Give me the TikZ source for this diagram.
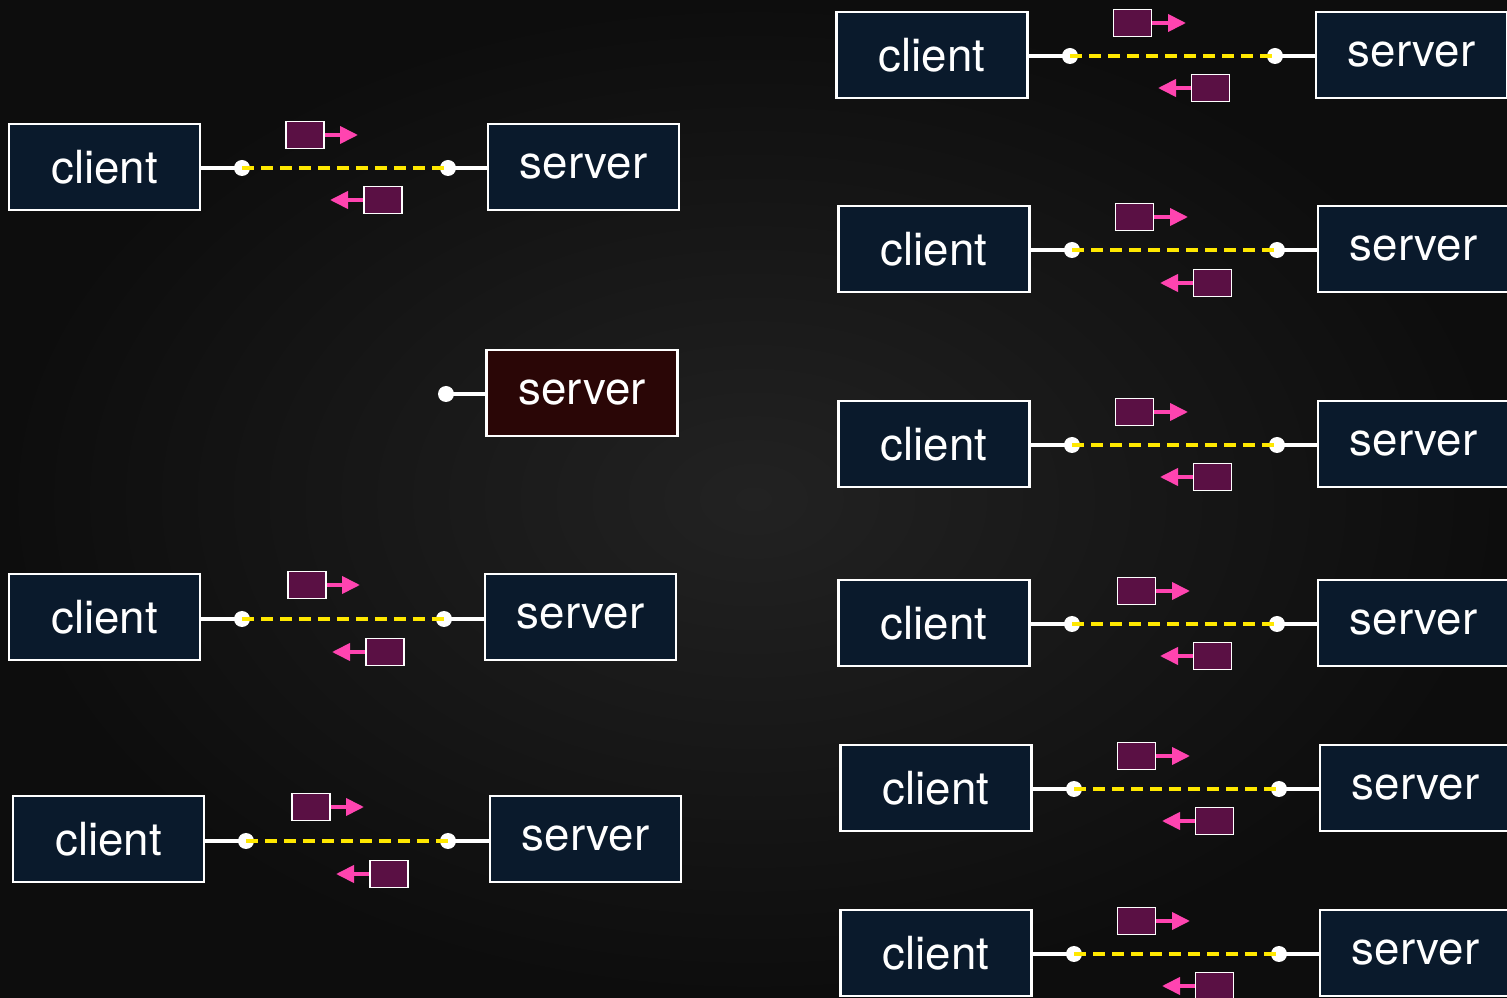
\documentclass[tikz,border=0pt]{standalone}
\usepackage{fontspec}
\setmainfont{TeX Gyre Heros}
\usetikzlibrary{arrows.meta}

\definecolor{bgouter}{HTML}{0D0D0D}
\definecolor{bginner}{HTML}{222222}
\definecolor{hostblue}{HTML}{0A1A2C}
\definecolor{hostred}{HTML}{2A0606}
\definecolor{packetfill}{HTML}{5A1044}
\definecolor{flowpink}{HTML}{FF44B0}
\definecolor{linkyellow}{HTML}{FFE800}

\tikzset{
  host/.style={draw=white, line width=0.6pt, fill=hostblue, text=white, minimum width=19.1mm, minimum height=8.6mm, inner sep=0pt, font=\fontsize{13}{15}\selectfont},
  deadhost/.style={host, fill=hostred},
  endpoint/.style={circle, fill=white, minimum size=1.6mm, inner sep=0pt},
  packet/.style={draw=white, line width=0.5pt, fill=packetfill, minimum width=3.8mm, minimum height=2.7mm, inner sep=0pt},
  wire/.style={white, line width=0.9pt},
  link/.style={linkyellow, line width=1.1pt, dash pattern=on 1.2mm off 0.7mm},
  flow/.style={flowpink, line width=1.1pt, -{Triangle[length=1.8mm,width=1.7mm]}}
}

\begin{document}
\begin{tikzpicture}[x=0.1mm, y=-0.1mm]
\shade[inner color=bginner, outer color=bgouter] (0,0) rectangle (1507,998);
\clip (0,0) rectangle (1507,998);

% left column
\node[host] (client1) at (104.5,167) {client};
\node[host] (server1) at (583.5,167) {server};
\node[endpoint] (cend1) at (242,168) {};
\node[endpoint] (send1) at (448,168) {};
\draw[wire] (client1.east |- cend1) -- (cend1.center);
\draw[wire] (send1.center) -- (server1.west |- send1);
\draw[link] (cend1.center) -- (send1.center);
\node[packet] (req1) at (305,135) {};
\node[packet] (resp1) at (383,200) {};
\coordinate (reqtip1) at (358,135);
\coordinate (resptip1) at (330,200);
\draw[flow] (req1.east) -- (reqtip1);
\draw[flow] (resp1.west) -- (resptip1);

\node[deadhost] (server2) at (582,393) {server};
\node[endpoint] (send2) at (446,394) {};
\draw[wire] (send2.center) -- (server2.west |- send2);

\node[host] (client3) at (104.5,617) {client};
\node[host] (server3) at (580.5,617) {server};
\node[endpoint] (cend3) at (242,619) {};
\node[endpoint] (send3) at (444,619) {};
\draw[wire] (client3.east |- cend3) -- (cend3.center);
\draw[wire] (send3.center) -- (server3.west |- send3);
\draw[link] (cend3.center) -- (send3.center);
\node[packet] (req3) at (307,585) {};
\node[packet] (resp3) at (385,652) {};
\coordinate (reqtip3) at (360,585);
\coordinate (resptip3) at (332,652);
\draw[flow] (req3.east) -- (reqtip3);
\draw[flow] (resp3.west) -- (resptip3);

\node[host] (client4) at (108.5,839) {client};
\node[host] (server4) at (585.5,839) {server};
\node[endpoint] (cend4) at (246,841) {};
\node[endpoint] (send4) at (448,841) {};
\draw[wire] (client4.east |- cend4) -- (cend4.center);
\draw[wire] (send4.center) -- (server4.west |- send4);
\draw[link] (cend4.center) -- (send4.center);
\node[packet] (req4) at (311,807) {};
\node[packet] (resp4) at (389,874) {};
\coordinate (reqtip4) at (364,807);
\coordinate (resptip4) at (336,874);
\draw[flow] (req4.east) -- (reqtip4);
\draw[flow] (resp4.west) -- (resptip4);

% right column
\node[host] (client5) at (932,55) {client};
\node[host] (server5) at (1411.5,55) {server};
\node[endpoint] (cend5) at (1070,56) {};
\node[endpoint] (send5) at (1275,56) {};
\draw[wire] (client5.east |- cend5) -- (cend5.center);
\draw[wire] (send5.center) -- (server5.west |- send5);
\draw[link] (cend5.center) -- (send5.center);
\node[packet] (req5) at (1132.5,23) {};
\node[packet] (resp5) at (1210.5,88) {};
\coordinate (reqtip5) at (1186,23);
\coordinate (resptip5) at (1158,88);
\draw[flow] (req5.east) -- (reqtip5);
\draw[flow] (resp5.west) -- (resptip5);

\node[host] (client6) at (934,249) {client};
\node[host] (server6) at (1413.5,249) {server};
\node[endpoint] (cend6) at (1072,250) {};
\node[endpoint] (send6) at (1277,250) {};
\draw[wire] (client6.east |- cend6) -- (cend6.center);
\draw[wire] (send6.center) -- (server6.west |- send6);
\draw[link] (cend6.center) -- (send6.center);
\node[packet] (req6) at (1134.5,217) {};
\node[packet] (resp6) at (1212.5,283) {};
\coordinate (reqtip6) at (1188,217);
\coordinate (resptip6) at (1160,283);
\draw[flow] (req6.east) -- (reqtip6);
\draw[flow] (resp6.west) -- (resptip6);

\node[host] (client7) at (934,444) {client};
\node[host] (server7) at (1413.5,444) {server};
\node[endpoint] (cend7) at (1072,445) {};
\node[endpoint] (send7) at (1277,445) {};
\draw[wire] (client7.east |- cend7) -- (cend7.center);
\draw[wire] (send7.center) -- (server7.west |- send7);
\draw[link] (cend7.center) -- (send7.center);
\node[packet] (req7) at (1134.5,412) {};
\node[packet] (resp7) at (1212.5,477) {};
\coordinate (reqtip7) at (1188,412);
\coordinate (resptip7) at (1160,477);
\draw[flow] (req7.east) -- (reqtip7);
\draw[flow] (resp7.west) -- (resptip7);

\node[host] (client8) at (934,623) {client};
\node[host] (server8) at (1413.5,623) {server};
\node[endpoint] (cend8) at (1072,624) {};
\node[endpoint] (send8) at (1277,624) {};
\draw[wire] (client8.east |- cend8) -- (cend8.center);
\draw[wire] (send8.center) -- (server8.west |- send8);
\draw[link] (cend8.center) -- (send8.center);
\node[packet] (req8) at (1136.5,591) {};
\node[packet] (resp8) at (1212.5,656) {};
\coordinate (reqtip8) at (1190,591);
\coordinate (resptip8) at (1160,656);
\draw[flow] (req8.east) -- (reqtip8);
\draw[flow] (resp8.west) -- (resptip8);

\node[host] (client9) at (936,788) {client};
\node[host] (server9) at (1415.5,788) {server};
\node[endpoint] (cend9) at (1074,789) {};
\node[endpoint] (send9) at (1279,789) {};
\draw[wire] (client9.east |- cend9) -- (cend9.center);
\draw[wire] (send9.center) -- (server9.west |- send9);
\draw[link] (cend9.center) -- (send9.center);
\node[packet] (req9) at (1136.5,756) {};
\node[packet] (resp9) at (1214.5,821) {};
\coordinate (reqtip9) at (1190,756);
\coordinate (resptip9) at (1162,821);
\draw[flow] (req9.east) -- (reqtip9);
\draw[flow] (resp9.west) -- (resptip9);

\node[host] (client10) at (936,953) {client};
\node[host] (server10) at (1415.5,953) {server};
\node[endpoint] (cend10) at (1074,954) {};
\node[endpoint] (send10) at (1279,954) {};
\draw[wire] (client10.east |- cend10) -- (cend10.center);
\draw[wire] (send10.center) -- (server10.west |- send10);
\draw[link] (cend10.center) -- (send10.center);
\node[packet] (req10) at (1136.5,921) {};
\node[packet] (resp10) at (1214.5,986) {};
\coordinate (reqtip10) at (1190,921);
\coordinate (resptip10) at (1162,986);
\draw[flow] (req10.east) -- (reqtip10);
\draw[flow] (resp10.west) -- (resptip10);

\end{tikzpicture}
\end{document}
